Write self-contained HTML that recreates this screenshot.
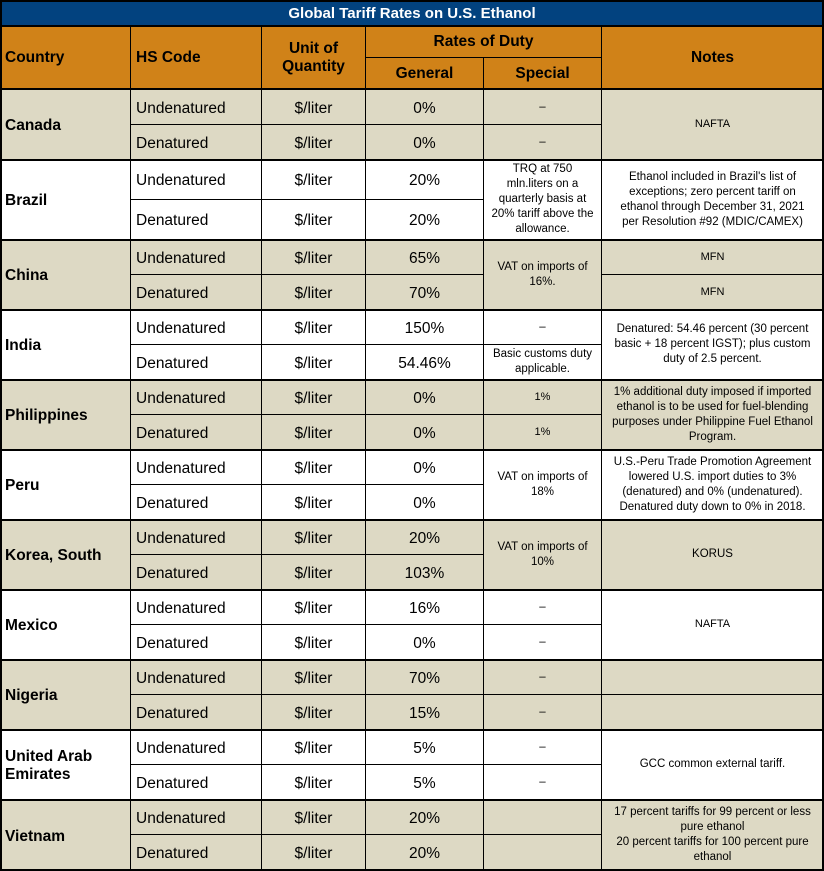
<!DOCTYPE html>
<html><head><meta charset="utf-8"><style>
body{margin:0;width:824px;height:871px;background:#fff;font-family:"Liberation Sans",Arial,sans-serif;position:relative;overflow:hidden}
.c{position:absolute;box-sizing:border-box;display:flex;align-items:center;justify-content:center;text-align:center;border-right:1px solid #000;border-bottom:1px solid #000;color:#000;font-size:15.5px;line-height:18px;padding-top:3px}
.l{justify-content:flex-start;text-align:left;padding-left:5px}
.b{font-weight:bold}
.s{font-size:11.5px;line-height:15px;padding:0 6px}
.y{background:#DDD9C4}
.h{background:#D08218;font-weight:bold;padding-top:0}
.t{position:absolute;left:0;top:0;width:824px;height:26px;background:#02427F;color:#fff;font-weight:bold;font-size:15px;display:flex;align-items:center;justify-content:center;box-sizing:border-box}
.k{position:absolute;left:0;width:824px;height:2px;background:#000}
</style></head><body>
<div class="t">Global Tariff Rates on U.S. Ethanol</div>
<div class="c h l" style="left:0;top:26px;width:131px;height:64px">Country</div>
<div class="c h l" style="left:131px;top:26px;width:131px;height:64px">HS Code</div>
<div class="c h" style="left:262px;top:26px;width:104px;height:64px">Unit of<br>Quantity</div>
<div class="c h" style="left:366px;top:26px;width:236px;height:32px">Rates of Duty</div>
<div class="c h" style="left:366px;top:58px;width:118px;height:32px">General</div>
<div class="c h" style="left:484px;top:58px;width:118px;height:32px">Special</div>
<div class="c h" style="left:602px;top:26px;width:222px;height:64px">Notes</div>

<!-- Canada -->
<div class="c b l y" style="left:0;top:90px;width:131px;height:70px">Canada</div>
<div class="c l y" style="left:131px;top:90px;width:131px;height:35px">Undenatured</div>
<div class="c l y" style="left:131px;top:125px;width:131px;height:35px">Denatured</div>
<div class="c y" style="left:262px;top:90px;width:104px;height:35px">$/liter</div>
<div class="c y" style="left:262px;top:125px;width:104px;height:35px">$/liter</div>
<div class="c y" style="left:366px;top:90px;width:118px;height:35px">0%</div>
<div class="c y" style="left:366px;top:125px;width:118px;height:35px">0%</div>
<div class="c y s" style="left:484px;top:90px;width:118px;height:35px">–</div>
<div class="c y s" style="left:484px;top:125px;width:118px;height:35px">–</div>
<div class="c y s" style="left:602px;top:90px;width:222px;height:70px;font-size:11px">NAFTA</div>

<!-- Brazil -->
<div class="c b l" style="left:0;top:160px;width:131px;height:80px">Brazil</div>
<div class="c l" style="left:131px;top:160px;width:131px;height:40px">Undenatured</div>
<div class="c l" style="left:131px;top:200px;width:131px;height:40px">Denatured</div>
<div class="c" style="left:262px;top:160px;width:104px;height:40px">$/liter</div>
<div class="c" style="left:262px;top:200px;width:104px;height:40px">$/liter</div>
<div class="c" style="left:366px;top:160px;width:118px;height:40px">20%</div>
<div class="c" style="left:366px;top:200px;width:118px;height:40px">20%</div>
<div class="c s" style="left:484px;top:160px;width:118px;height:80px;padding:0 2px">TRQ at 750<br>mln.liters on a<br>quarterly basis at<br>20% tariff above the<br>allowance.</div>
<div class="c s" style="left:602px;top:160px;width:222px;height:80px;padding:0 10px">Ethanol included in Brazil's list of exceptions; zero percent tariff on ethanol through December 31, 2021 per Resolution #92 (MDIC/CAMEX)</div>

<!-- China -->
<div class="c b l y" style="left:0;top:240px;width:131px;height:70px">China</div>
<div class="c l y" style="left:131px;top:240px;width:131px;height:35px">Undenatured</div>
<div class="c l y" style="left:131px;top:275px;width:131px;height:35px">Denatured</div>
<div class="c y" style="left:262px;top:240px;width:104px;height:35px">$/liter</div>
<div class="c y" style="left:262px;top:275px;width:104px;height:35px">$/liter</div>
<div class="c y" style="left:366px;top:240px;width:118px;height:35px">65%</div>
<div class="c y" style="left:366px;top:275px;width:118px;height:35px">70%</div>
<div class="c y s" style="left:484px;top:240px;width:118px;height:70px">VAT on imports of 16%.</div>
<div class="c y s" style="left:602px;top:240px;width:222px;height:35px;font-size:11px">MFN</div>
<div class="c y s" style="left:602px;top:275px;width:222px;height:35px;font-size:11px">MFN</div>

<!-- India -->
<div class="c b l" style="left:0;top:310px;width:131px;height:70px">India</div>
<div class="c l" style="left:131px;top:310px;width:131px;height:35px">Undenatured</div>
<div class="c l" style="left:131px;top:345px;width:131px;height:35px">Denatured</div>
<div class="c" style="left:262px;top:310px;width:104px;height:35px">$/liter</div>
<div class="c" style="left:262px;top:345px;width:104px;height:35px">$/liter</div>
<div class="c" style="left:366px;top:310px;width:118px;height:35px">150%</div>
<div class="c" style="left:366px;top:345px;width:118px;height:35px">54.46%</div>
<div class="c s" style="left:484px;top:310px;width:118px;height:35px">–</div>
<div class="c s" style="left:484px;top:345px;width:118px;height:35px;padding:0 3px">Basic customs duty applicable.</div>
<div class="c s" style="left:602px;top:310px;width:222px;height:70px">Denatured: 54.46 percent (30 percent basic + 18 percent IGST); plus custom duty of 2.5 percent.</div>

<!-- Philippines -->
<div class="c b l y" style="left:0;top:380px;width:131px;height:70px">Philippines</div>
<div class="c l y" style="left:131px;top:380px;width:131px;height:35px">Undenatured</div>
<div class="c l y" style="left:131px;top:415px;width:131px;height:35px">Denatured</div>
<div class="c y" style="left:262px;top:380px;width:104px;height:35px">$/liter</div>
<div class="c y" style="left:262px;top:415px;width:104px;height:35px">$/liter</div>
<div class="c y" style="left:366px;top:380px;width:118px;height:35px">0%</div>
<div class="c y" style="left:366px;top:415px;width:118px;height:35px">0%</div>
<div class="c y s" style="left:484px;top:380px;width:118px;height:35px;font-size:11px">1%</div>
<div class="c y s" style="left:484px;top:415px;width:118px;height:35px;font-size:11px">1%</div>
<div class="c y s" style="left:602px;top:380px;width:222px;height:70px;padding:0 4px">1% additional duty imposed if imported ethanol is to be used for fuel-blending purposes under Philippine Fuel Ethanol Program.</div>

<!-- Peru -->
<div class="c b l" style="left:0;top:450px;width:131px;height:70px">Peru</div>
<div class="c l" style="left:131px;top:450px;width:131px;height:35px">Undenatured</div>
<div class="c l" style="left:131px;top:485px;width:131px;height:35px">Denatured</div>
<div class="c" style="left:262px;top:450px;width:104px;height:35px">$/liter</div>
<div class="c" style="left:262px;top:485px;width:104px;height:35px">$/liter</div>
<div class="c" style="left:366px;top:450px;width:118px;height:35px">0%</div>
<div class="c" style="left:366px;top:485px;width:118px;height:35px">0%</div>
<div class="c s" style="left:484px;top:450px;width:118px;height:70px">VAT on imports of 18%</div>
<div class="c s" style="left:602px;top:450px;width:222px;height:70px;padding:0 3px">U.S.-Peru Trade Promotion Agreement lowered U.S. import duties to 3% (denatured) and 0% (undenatured). Denatured duty down to 0% in 2018.</div>

<!-- Korea -->
<div class="c b l y" style="left:0;top:520px;width:131px;height:70px">Korea, South</div>
<div class="c l y" style="left:131px;top:520px;width:131px;height:35px">Undenatured</div>
<div class="c l y" style="left:131px;top:555px;width:131px;height:35px">Denatured</div>
<div class="c y" style="left:262px;top:520px;width:104px;height:35px">$/liter</div>
<div class="c y" style="left:262px;top:555px;width:104px;height:35px">$/liter</div>
<div class="c y" style="left:366px;top:520px;width:118px;height:35px">20%</div>
<div class="c y" style="left:366px;top:555px;width:118px;height:35px">103%</div>
<div class="c y s" style="left:484px;top:520px;width:118px;height:70px">VAT on imports of 10%</div>
<div class="c y s" style="left:602px;top:520px;width:222px;height:70px">KORUS</div>

<!-- Mexico -->
<div class="c b l" style="left:0;top:590px;width:131px;height:70px">Mexico</div>
<div class="c l" style="left:131px;top:590px;width:131px;height:35px">Undenatured</div>
<div class="c l" style="left:131px;top:625px;width:131px;height:35px">Denatured</div>
<div class="c" style="left:262px;top:590px;width:104px;height:35px">$/liter</div>
<div class="c" style="left:262px;top:625px;width:104px;height:35px">$/liter</div>
<div class="c" style="left:366px;top:590px;width:118px;height:35px">16%</div>
<div class="c" style="left:366px;top:625px;width:118px;height:35px">0%</div>
<div class="c s" style="left:484px;top:590px;width:118px;height:35px">–</div>
<div class="c s" style="left:484px;top:625px;width:118px;height:35px">–</div>
<div class="c s" style="left:602px;top:590px;width:222px;height:70px;font-size:11px">NAFTA</div>

<!-- Nigeria -->
<div class="c b l y" style="left:0;top:660px;width:131px;height:70px">Nigeria</div>
<div class="c l y" style="left:131px;top:660px;width:131px;height:35px">Undenatured</div>
<div class="c l y" style="left:131px;top:695px;width:131px;height:35px">Denatured</div>
<div class="c y" style="left:262px;top:660px;width:104px;height:35px">$/liter</div>
<div class="c y" style="left:262px;top:695px;width:104px;height:35px">$/liter</div>
<div class="c y" style="left:366px;top:660px;width:118px;height:35px">70%</div>
<div class="c y" style="left:366px;top:695px;width:118px;height:35px">15%</div>
<div class="c y s" style="left:484px;top:660px;width:118px;height:35px">–</div>
<div class="c y s" style="left:484px;top:695px;width:118px;height:35px">–</div>
<div class="c y s" style="left:602px;top:660px;width:222px;height:35px"></div>
<div class="c y s" style="left:602px;top:695px;width:222px;height:35px"></div>

<!-- UAE -->
<div class="c b l" style="left:0;top:730px;width:131px;height:70px">United Arab<br>Emirates</div>
<div class="c l" style="left:131px;top:730px;width:131px;height:35px">Undenatured</div>
<div class="c l" style="left:131px;top:765px;width:131px;height:35px">Denatured</div>
<div class="c" style="left:262px;top:730px;width:104px;height:35px">$/liter</div>
<div class="c" style="left:262px;top:765px;width:104px;height:35px">$/liter</div>
<div class="c" style="left:366px;top:730px;width:118px;height:35px">5%</div>
<div class="c" style="left:366px;top:765px;width:118px;height:35px">5%</div>
<div class="c s" style="left:484px;top:730px;width:118px;height:35px">–</div>
<div class="c s" style="left:484px;top:765px;width:118px;height:35px">–</div>
<div class="c s" style="left:602px;top:730px;width:222px;height:70px">GCC common external tariff.</div>

<!-- Vietnam -->
<div class="c b l y" style="left:0;top:800px;width:131px;height:71px">Vietnam</div>
<div class="c l y" style="left:131px;top:800px;width:131px;height:35px">Undenatured</div>
<div class="c l y" style="left:131px;top:835px;width:131px;height:36px">Denatured</div>
<div class="c y" style="left:262px;top:800px;width:104px;height:35px">$/liter</div>
<div class="c y" style="left:262px;top:835px;width:104px;height:36px">$/liter</div>
<div class="c y" style="left:366px;top:800px;width:118px;height:35px">20%</div>
<div class="c y" style="left:366px;top:835px;width:118px;height:36px">20%</div>
<div class="c y s" style="left:484px;top:800px;width:118px;height:35px"></div>
<div class="c y s" style="left:484px;top:835px;width:118px;height:36px"></div>
<div class="c y s" style="left:602px;top:800px;width:222px;height:71px;padding:0 3px">17 percent tariffs for 99 percent or less pure ethanol<br>20 percent tariffs for 100 percent pure ethanol</div>

<div class="k" style="top:25px"></div>
<div class="k" style="top:88px"></div>
<div class="k" style="top:159px"></div>
<div class="k" style="top:239px"></div>
<div class="k" style="top:309px"></div>
<div class="k" style="top:379px"></div>
<div class="k" style="top:449px"></div>
<div class="k" style="top:519px"></div>
<div class="k" style="top:589px"></div>
<div class="k" style="top:659px"></div>
<div class="k" style="top:729px"></div>
<div class="k" style="top:799px"></div>
<div class="k" style="top:869px"></div>
<div style="position:absolute;left:0;top:0;width:824px;height:871px;box-sizing:border-box;border:2px solid #000"></div>
</body></html>
